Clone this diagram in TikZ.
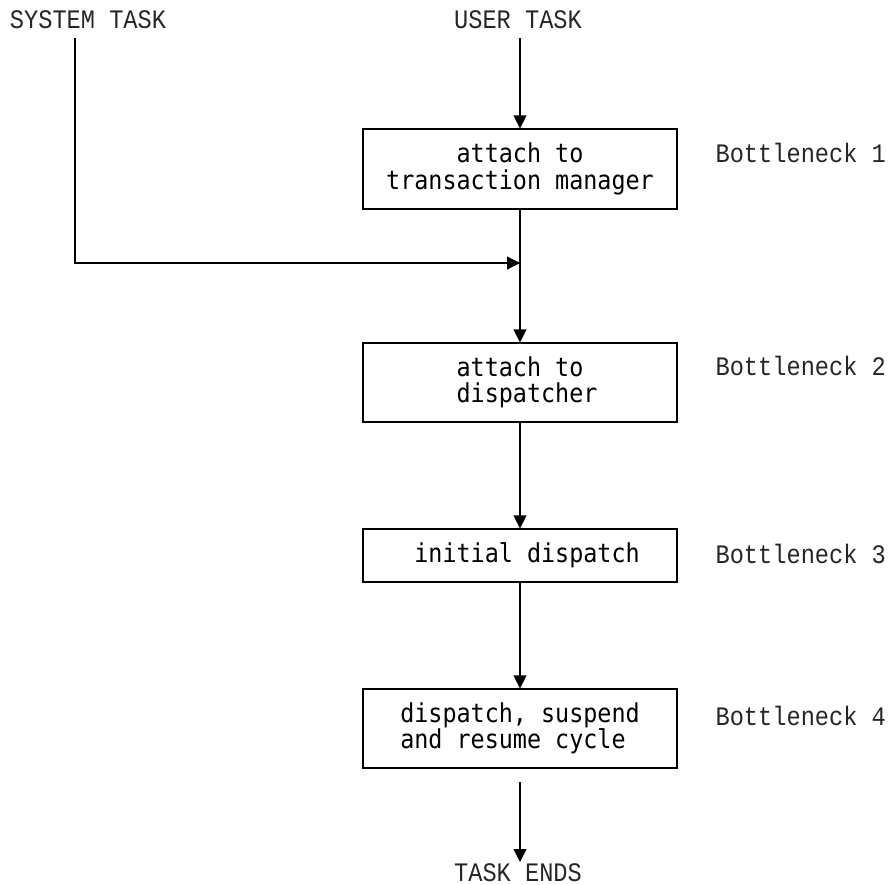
\documentclass[tikz,border=0pt]{standalone}
\usepackage{fontspec}
\usetikzlibrary{arrows.meta}
\newfontfamily\labelfont[FakeStretch=0.886]{Liberation Mono}
\newfontfamily\boxfont[FakeStretch=0.9]{DejaVu Sans Mono}
\begin{document}
\begin{tikzpicture}[x=1pt,y=-1pt,
  line width=1.2pt,
  arr/.style={-{Triangle[length=13pt,width=13pt]}},
  stepbox/.style={draw, minimum width=314pt, inner sep=0pt,
    font=\boxfont\fontsize{26}{26.5}\selectfont},
  tag/.style={font=\labelfont\fontsize{26.7}{27}\selectfont, text=black!85,
    inner sep=0pt, anchor=base west},
  ends/.style={font=\labelfont\fontsize{26.7}{27}\selectfont, text=black!85,
    inner sep=0pt, anchor=base}]
\useasboundingbox (0,0) rectangle (888,884);

% entry points
\node[ends] (stask) at (88,28) {SYSTEM TASK};
\node[ends] (utask) at (518,28) {USER TASK};

% processing steps
\node[stepbox, minimum height=80pt, align=center] (b1) at (520,169)
  {attach to\\transaction manager};
\node[stepbox, minimum height=79pt, align=left] (b2) at (520,382.5)
  {\phantom{x}attach to\\\phantom{x}dispatcher};
\node[stepbox, minimum height=53pt] (b3) at (520,555.5) {\phantom{x}initial dispatch};
\node[stepbox, minimum height=79pt, align=left] (b4) at (520,728.5)
  {dispatch, suspend\\and resume cycle};

\node[ends] (tend) at (518,881) {TASK ENDS};

% bottleneck annotations
\node[tag] (n1) at (715,162) {Bottleneck 1};
\node[tag] (n2) at (715,375) {Bottleneck 2};
\node[tag] (n3) at (715,563) {Bottleneck 3};
\node[tag] (n4) at (715,725) {Bottleneck 4};

% connectors
\coordinate (stop) at (75,38);
\coordinate (join) at (520,263);
\coordinate (utop) at (520,38);
\coordinate (etop) at (520,782);
\coordinate (eend) at (520,862);

\draw[arr] (utop) -- (b1.north);
\draw[arr] (stop) |- (join);
\draw[arr] (b1.south) -- (b2.north);
\draw[arr] (b2.south) -- (b3.north);
\draw[arr] (b3.south) -- (b4.north);
\draw[arr] (etop) -- (eend);
\end{tikzpicture}
\end{document}
